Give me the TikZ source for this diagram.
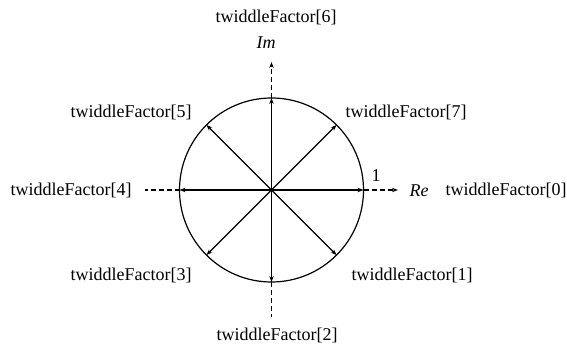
\documentclass[tikz,border=0pt]{standalone}
\usepackage{fontspec}
\setmainfont{Liberation Serif}
\usetikzlibrary{arrows.meta}

\begin{document}
\begin{tikzpicture}[x=0.5pt,y=-0.5pt,line width=0.6pt,>={Stealth[length=3pt,width=2.2pt]},
  font=\fontsize{9}{11}\selectfont]
\useasboundingbox (0,0) rectangle (567,347);
  \coordinate (O) at (271.5,190);
  \draw (O) circle [radius=46pt];
  %unit roots on the circle, clockwise
  \foreach \k in {0,...,7}{
    \path (O) ++(-45*\k:46pt) coordinate (p\k);
    \draw[->] (O) -- (p\k);
  }
  %axes
  \coordinate (xl) at (145,190);
  \coordinate (xr) at (398,190);
  \coordinate (yt) at (271.5,62);
  \coordinate (yb) at (271.5,317);
  \draw[dash pattern=on 2.5pt off 1.5pt] (p4) -- (xl);
  \draw[dash pattern=on 2.5pt off 1.5pt,->] (p0) -- (xr);
  \draw[dash pattern=on 2.5pt off 1.5pt,->] (p6) -- (yt);
  \draw[dash pattern=on 2.5pt off 1.5pt] (p2) -- (yb);
  \node (Re) at (419,191) {\textit{Re}};
  \node (Im) at (266,43) {\textit{Im}};
  \node (one) at (376,176) {1};
  %labels
  \node (t0) at (506,190) {twiddleFactor[0]};
  \node (t1) at (412,275) {twiddleFactor[1]};
  \node (t2) at (277,335) {twiddleFactor[2]};
  \node (t3) at (131,275) {twiddleFactor[3]};
  \node (t4) at (71,190) {twiddleFactor[4]};
  \node (t5) at (131,112) {twiddleFactor[5]};
  \node (t6) at (276,17) {twiddleFactor[6]};
  \node (t7) at (406,112) {twiddleFactor[7]};
\end{tikzpicture}
\end{document}
